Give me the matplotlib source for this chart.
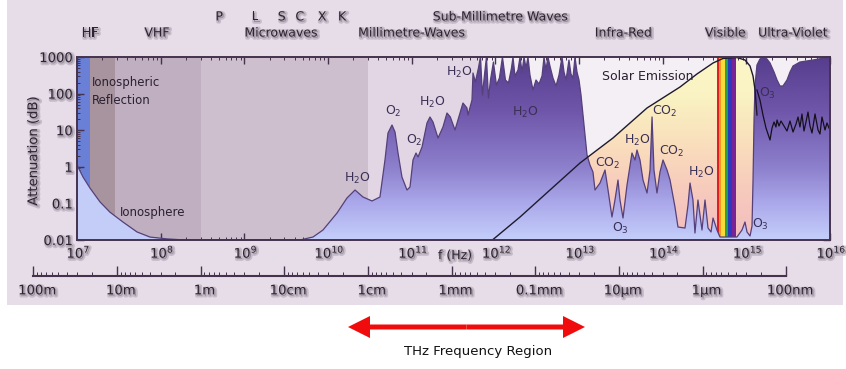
import numpy as np
import matplotlib
matplotlib.use("Agg")
import matplotlib.pyplot as plt
from matplotlib import patheffects as pe
from matplotlib.patches import Polygon, Rectangle, FancyArrow
from matplotlib.colors import LinearSegmentedColormap
from matplotlib.ticker import LogLocator, NullFormatter
from matplotlib.transforms import blended_transform_factory, ScaledTranslation

C_LIGHT = 2.998e8  # m/s

# ---------------------------------------------------------------- data
# Ionospheric attenuation at the low-frequency end (log10 Hz, log10 dB)
iono_log10_hz = [7.000, 7.072, 7.155, 7.275, 7.394, 7.550, 7.717, 7.873, 8.076, 8.291, 9.665]
iono_log10_db = [0.05, -0.28, -0.58, -0.96, -1.24, -1.51, -1.78, -1.92, -1.97, -2.0, -2.0]

# Atmospheric attenuation from microwaves to the ultra-violet (log10 Hz, log10 dB)
atm_log10_hz = [
    9.821, 9.940, 10.108, 10.227, 10.323, 10.418, 10.526, 10.621, 10.681, 10.717,
    10.765, 10.801, 10.837, 10.884, 10.944, 10.980, 11.016, 11.052, 11.076, 11.124,
    11.183, 11.219, 11.255, 11.315, 11.374, 11.422, 11.462, 11.518, 11.577, 11.613,
    11.661, 11.673, 11.721, 11.733, 11.762, 11.798, 11.822, 11.846, 11.870, 11.894,
    11.918, 11.942, 11.977, 12.013, 12.049, 12.085, 12.121, 12.157, 12.193, 12.211,
    12.235, 12.271, 12.295, 12.319, 12.343, 12.367, 12.390, 12.414, 12.450, 12.486,
    12.522, 12.558, 12.582, 12.605, 12.629, 12.653, 12.689, 12.725, 12.761, 12.797,
    12.821, 12.845, 12.880, 12.904, 12.928, 12.952, 12.976, 13.000, 13.024, 13.048,
    13.072, 13.096, 13.131, 13.167, 13.191, 13.251, 13.311, 13.347, 13.394, 13.430,
    13.466, 13.490, 13.526, 13.574, 13.633, 13.669, 13.693, 13.729, 13.765, 13.813,
    13.849, 13.873, 13.896, 13.932, 13.968, 14.004, 14.052, 14.088, 14.147, 14.183,
    14.267, 14.303, 14.327, 14.362, 14.386, 14.422, 14.446, 14.470, 14.506, 14.542,
    14.578, 14.602, 14.649, 14.685, 14.888, 14.948, 14.984, 15.008, 15.044, 15.068,
    15.080, 15.092, 15.104, 15.127, 15.163, 15.199, 15.247, 15.283, 15.331, 15.367,
    15.402, 15.438, 15.486, 15.522, 15.558, 15.641, 15.797, 15.988, 16.000]
atm_log10_db = [
    -1.918, -1.727, -1.262, -0.852, -0.634, -0.825, -0.934, -0.825, 0.186, 0.923,
    1.142, 0.951, 0.377, -0.279, -0.634, -0.552, 0.186, 0.377, 0.268, 0.541,
    1.197, 1.361, 1.224, 0.787, 1.087, 1.470, 1.361, 1.006, 1.470, 1.743,
    1.607, 1.415, 1.825, 2.563, 2.317, 2.699, 3.0, 1.962, 2.508, 3.0,
    1.880, 2.372, 2.863, 2.235, 2.426, 3.0, 2.372, 2.290, 2.699, 3.0,
    2.481, 2.645, 3.0, 2.590, 3.0, 2.699, 3.0, 2.508, 2.098, 2.372,
    2.262, 2.481, 3.0, 2.645, 3.0, 2.754, 2.426, 2.208, 2.508, 3.0,
    2.590, 2.372, 2.918, 2.536, 2.426, 3.0, 2.590, 2.372, 1.962, 1.415,
    0.869, 0.322, 0.049, -0.142, -0.634, -0.443, -0.087, -0.634, -1.372, -0.907,
    -0.361, -0.907, -1.399, -0.497, 0.377, 0.186, 0.459, 0.186, -0.361, -0.716,
    -0.087, 1.361, -0.087, -0.716, -0.142, 0.186, -0.087, -0.361, -1.098, -1.645,
    -1.673, -1.044, -0.443, -0.907, -1.809, -0.907, -1.317, -1.727, -0.907, -1.673,
    -1.781, -1.399, -1.727, -1.918, -1.918, -1.727, -1.508, -1.781, -1.891, -1.617,
    -0.361, 1.279, 2.235, 2.781, 2.945, 3.0, 2.945, 2.836, 2.590, 2.372,
    2.208, 2.208, 2.372, 2.590, 2.754, 2.863, 2.918, 3.0, 3.0]

# Solar emission envelope (log10 Hz, log10 dB-scale units)
solar_log10_hz = [11.965, 12.295, 12.653, 13.012, 13.406, 13.813, 14.207, 14.410,
                  14.602, 14.721, 14.888, 14.984, 15.044, 15.080, 15.104, 15.127]
solar_log10_db = [-2.0, -1.372, -0.634, 0.104, 0.787, 1.607, 2.180, 2.536,
                  2.836, 2.960, 2.985, 2.918, 2.754, 2.481, 2.098, 1.415]

# Ozone absorption trace in the ultra-violet (log10 Hz, log10 dB)
o3_log10_hz = [15.127, 15.163, 15.199, 15.235, 15.283, 15.307, 15.331, 15.354, 15.367, 15.390,
               15.414, 15.450, 15.486, 15.522, 15.558, 15.594, 15.618, 15.641, 15.665, 15.689,
               15.713, 15.737, 15.761, 15.785, 15.821, 15.857, 15.880, 15.904, 15.940, 15.964, 15.988]
o3_log10_db = [2.098, 1.825, 1.415, 1.060, 0.732, 1.060, 1.224, 1.087, 1.279, 1.115,
               1.251, 1.115, 0.978, 1.251, 0.951, 1.169, 1.361, 1.087, 1.443, 0.978,
               1.224, 1.497, 1.115, 0.923, 1.443, 1.006, 0.896, 1.361, 1.006, 1.197, 1.060]

freq_ticks_hz = [1e7, 1e8, 1e9, 1e10, 1e11, 1e12, 1e13, 1e14, 1e15, 1e16]
freq_tick_labels = [r"$10^{%d}$" % e for e in range(7, 17)]
atten_ticks_db = [0.01, 0.1, 1, 10, 100, 1000]
atten_tick_labels = ["0.01", "0.1", "1", "10", "100", "1000"]
wavelength_ticks_m = [100, 10, 1, 0.1, 0.01, 1e-3, 1e-4, 1e-5, 1e-6, 1e-7]
wavelength_tick_labels = ["100m", "10m", "1m", "10cm", "1cm", "1mm", "0.1mm",
                          "10\u00b5m", "1\u00b5m", "100nm"]

# Shaded frequency bands behind the curve
band_edges_hz = [1e7, 1.43e7, 2.85e7, 3e8, 3e10, 7e11, 1e16]
band_colors = ["#6a80d6", "#a8949f", "#c0afc1", "#cdbfce", "#e2d6e4", "#f3eff5"]

# Visible spectrum stripes (wavelength edges in nm)
rainbow_edges_nm = [680, 630, 595, 540, 490, 445, 400]
rainbow_colors = ["#e01e24", "#f7961e", "#f6dc3a", "#2aa046", "#2c38be", "#7a2396"]

# Region names above the plot: (text, frequency in Hz, row)
region_labels = [
    ("HF", 1.43e7, 0), ("VHF", 9.0e7, 0), ("Microwaves", 2.75e9, 0),
    ("Millimetre-Waves", 1.0e11, 0), ("Infra-Red", 3.4e13, 0),
    ("Visible", 5.6e14, 0), ("Ultra-Violet", 3.6e15, 0),
    ("P", 5.0e8, 1), ("L", 1.34e9, 1), ("S", 2.8e9, 1), ("C", 4.6e9, 1),
    ("X", 8.5e9, 1), ("K", 1.47e10, 1), ("Sub-Millimetre Waves", 1.15e12, 1),
]

# Absorbing species: (text, frequency Hz, attenuation dB)
species_labels = [
    ("H$_2$O", 2.22e10, 0.49), ("O$_2$", 5.98e10, 33.5), ("O$_2$", 1.07e11, 5.4),
    ("H$_2$O", 1.75e11, 59), ("H$_2$O", 3.68e11, 389), ("H$_2$O", 2.26e12, 30),
    ("CO$_2$", 1.07e14, 33.5), ("H$_2$O", 4.93e13, 5.1), ("CO$_2$", 2.22e13, 1.27),
    ("CO$_2$", 1.29e14, 2.7), ("H$_2$O", 2.87e14, 0.72), ("O$_3$", 3.09e13, 0.021),
    ("O$_3$", 1.46e15, 0.027), ("O$_3$", 1.77e15, 104),
]

# ---------------------------------------------------------------- styling
FRAME = "#45334d"
TEXT = "#2c2430"
shadow_fx = [pe.Stroke(linewidth=2.6, foreground="#8a7d8e", alpha=0.35, offset=(1.0, -1.0)),
             pe.Normal()]
plt.rcParams["font.family"] = ["DejaVu Sans"]

W, H = 846, 369
fig = plt.figure(figsize=(W / 100, H / 100), dpi=100)
fig.patch.set_facecolor("white")
fig.add_artist(Rectangle((7 / W, 1 - 305 / H), 836 / W, 305 / H, transform=fig.transFigure,
                         facecolor="#e7dde8", edgecolor="none", zorder=-10))

ax = fig.add_axes([77 / W, 1 - 240 / H, 753 / W, 183 / H])
ax.set_xscale("log")
ax.set_yscale("log")
ax.set_xlim(freq_ticks_hz[0], freq_ticks_hz[-1])
ax.set_ylim(atten_ticks_db[0], atten_ticks_db[-1])
ax.set_autoscale_on(False)
ax.set_facecolor("none")

for lo, hi, col in zip(band_edges_hz[:-1], band_edges_hz[1:], band_colors):
    ax.axvspan(lo, hi, color=col, lw=0, zorder=0)


def gradient_under(xs, ys, stops, z):
    verts = list(zip(xs, ys)) + [(xs[-1], 0.005), (xs[0], 0.005)]
    poly = Polygon(verts, closed=True, transform=ax.transData,
                   facecolor="none", edgecolor="none")
    ax.add_patch(poly)
    cmap = LinearSegmentedColormap.from_list("grad", stops)
    grad = np.linspace(1, 0, 256).reshape(-1, 1)
    im = ax.imshow(grad, cmap=cmap, vmin=0, vmax=1, extent=(0, 1, 0, 1),
                   transform=ax.transAxes, aspect="auto", interpolation="bilinear", zorder=z)
    im.set_clip_path(poly)


iono_f = 10 ** np.array(iono_log10_hz)
iono_db = 10 ** np.array(iono_log10_db)
atm_f = 10 ** np.array(atm_log10_hz)
atm_db = 10 ** np.array(atm_log10_db)
curve_f = np.concatenate([iono_f, atm_f])
curve_db = np.concatenate([iono_db, atm_db])
solar_f = 10 ** np.array(solar_log10_hz)
solar_db = 10 ** np.array(solar_log10_db)
o3_f = 10 ** np.array(o3_log10_hz)
o3_db = 10 ** np.array(o3_log10_db)

# Solar emission area (yellow to peach)
gradient_under(solar_f, solar_db,
               [(0.0, (0.95, 0.74, 0.75)), (0.3, (0.97, 0.80, 0.74)),
                (0.55, (0.98, 0.88, 0.74)), (0.78, (0.98, 0.95, 0.76)),
                (1.0, (0.99, 0.97, 0.79))], 1)

# Visible spectrum stripes
for l1, l2, col in zip(rainbow_edges_nm[:-1], rainbow_edges_nm[1:], rainbow_colors):
    ax.axvspan(C_LIGHT / (l1 * 1e-9), C_LIGHT / (l2 * 1e-9), color=col, lw=0, zorder=2)

# Attenuation area (violet to pale blue)
gradient_under(curve_f, curve_db,
               [(0.0, (0.77, 0.81, 0.98)), (0.2, (0.67, 0.66, 0.92)),
                (0.4, (0.55, 0.50, 0.80)), (0.7, (0.44, 0.34, 0.67)),
                (1.0, (0.34, 0.24, 0.55))], 3)
ax.fill_between(iono_f, iono_db, 0.005, color="#c3cdf7", lw=0, zorder=3.2)
ax.plot(curve_f, curve_db, color="#55407a", lw=0.9, zorder=4)

ax.plot(solar_f, solar_db, color="#1e1a2e", lw=1.0, zorder=5)
ax.plot(o3_f, o3_db, color="#151020", lw=0.9, zorder=5)

# Frame and ticks
for s in ax.spines.values():
    s.set_color(FRAME)
    s.set_linewidth(1.4)
    s.set_zorder(6)
ax.set_xticks(freq_ticks_hz, labels=freq_tick_labels)
ax.set_yticks(atten_ticks_db, labels=atten_tick_labels)
ax.xaxis.set_minor_locator(LogLocator(base=10, subs=np.arange(2, 10), numticks=100))
ax.yaxis.set_minor_locator(LogLocator(base=10, subs=np.arange(2, 10), numticks=100))
ax.xaxis.set_minor_formatter(NullFormatter())
ax.yaxis.set_minor_formatter(NullFormatter())
ax.tick_params(which="both", direction="in", top=True, right=True, color=FRAME,
               labelcolor=TEXT, labelsize=9.5)
ax.tick_params(which="major", length=5, width=1.0)
ax.tick_params(which="minor", length=2.5, width=0.7)
ax.tick_params(axis="x", pad=3)
ax.tick_params(axis="y", pad=3)
nudge_right = ScaledTranslation(1.5 / 100, 0, fig.dpi_scale_trans)
for lbl in ax.get_xticklabels():
    lbl.set_path_effects(shadow_fx)
    lbl.set_transform(lbl.get_transform() + nudge_right)
for lbl in ax.get_yticklabels():
    lbl.set_path_effects(shadow_fx)

ax.set_ylabel("Attenuation (dB)", fontsize=9.5, color=TEXT, path_effects=shadow_fx)
ax.yaxis.set_label_coords(-0.049, 0.49)

ax.text(3.3e11, -0.085, "f (Hz)", transform=blended_transform_factory(ax.transData, ax.transAxes),
        ha="center", va="center", fontsize=9, color=TEXT, path_effects=shadow_fx)

# Region names above the plot
top = blended_transform_factory(ax.transData, ax.transAxes)
for text, f, row in region_labels:
    ax.text(f, 1.131 if row == 0 else 1.219, text, transform=top, ha="center", va="center",
            fontsize=9, color=TEXT, path_effects=shadow_fx, clip_on=False)

# Labels inside the plot
ax.text(1.51e7, 207, "Ionospheric", fontsize=8.5, color="#2a2030", ha="left", va="center", zorder=7)
ax.text(1.51e7, 63, "Reflection", fontsize=8.5, color="#2a2030", ha="left", va="center", zorder=7)
ax.text(8.1e7, 0.058, "Ionosphere", fontsize=8.5, color="#2a2030", ha="center", va="center", zorder=7)
ax.text(6.7e13, 290, "Solar Emission", fontsize=9, color="#2a2030", ha="center", va="center", zorder=7)
for text, f, db in species_labels:
    ax.text(f, db, text, fontsize=9, color="#3a2f55", ha="center", va="center", zorder=7)

# Wavelength scale beneath the frequency axis
to_fig = fig.transFigure.inverted()
x_left = to_fig.transform(ax.transData.transform((C_LIGHT / wavelength_ticks_m[0], 1)))[0]
x_right = to_fig.transform(ax.transData.transform((C_LIGHT / wavelength_ticks_m[-1], 1)))[0]
wl = fig.add_axes([x_left, 1 - 276 / H, x_right - x_left, 10 / H])
wl.set_xscale("log")
wl.set_xlim(wavelength_ticks_m[0], wavelength_ticks_m[-1])
wl.set_facecolor("none")
for side in ("top", "left", "right"):
    wl.spines[side].set_visible(False)
wl.spines["bottom"].set_color(FRAME)
wl.spines["bottom"].set_linewidth(1.5)
wl.set_yticks([])
wl.set_xticks(wavelength_ticks_m, labels=wavelength_tick_labels)
wl.xaxis.set_minor_locator(LogLocator(base=10, subs=np.arange(2, 10), numticks=100))
wl.xaxis.set_minor_formatter(NullFormatter())
wl.tick_params(which="both", direction="in", color=FRAME, labelcolor=TEXT, labelsize=9.5, pad=6)
wl.tick_params(which="major", length=7, width=1.0)
wl.tick_params(which="minor", length=3, width=0.7)
wl_nudge = ScaledTranslation(4 / 100, 0, fig.dpi_scale_trans)
for lbl in wl.get_xticklabels():
    lbl.set_path_effects(shadow_fx)
    lbl.set_transform(lbl.get_transform() + wl_nudge)

# THz band arrow and caption
arrow_y = (H - 327) / 100
arrow_mid = 466.5 / 100
for end_px in (348, 585):
    fig.add_artist(FancyArrow(arrow_mid, arrow_y, end_px / 100 - arrow_mid, 0, width=0.05,
                              head_width=0.22, head_length=0.22, length_includes_head=True,
                              color="#f00c0c", lw=0, transform=fig.dpi_scale_trans))
fig.text(478 / W, 1 - 352 / H, "THz Frequency Region", ha="center", va="center",
         fontsize=9.5, color="#111111")

fig.savefig("out.png", dpi=100, facecolor=fig.get_facecolor())
